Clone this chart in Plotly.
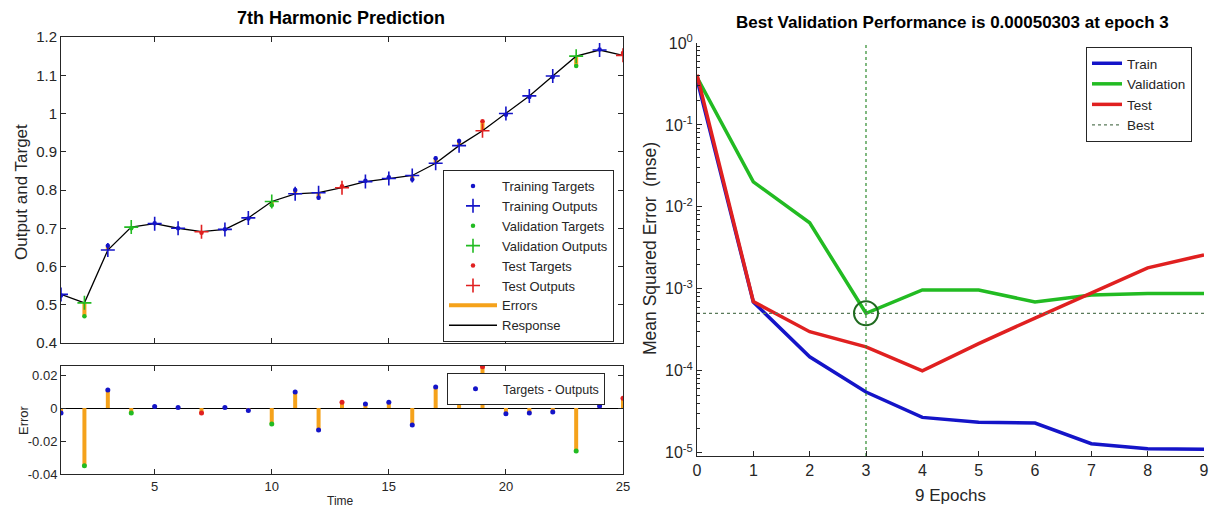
import plotly.graph_objects as go

W, H = 1210, 508

# ---------------- data: response plot ----------------
time = list(range(1, 26))
outputs = [0.527, 0.505, 0.643, 0.703, 0.712, 0.700, 0.691, 0.697, 0.727, 0.770,
           0.790, 0.793, 0.806, 0.822, 0.830, 0.838, 0.870, 0.916, 0.955, 1.000,
           1.046, 1.098, 1.150, 1.166, 1.152]
errors = [-0.003, -0.035, 0.011, -0.003, 0.001, 0.0003, -0.003, 0.0003, -0.0015, -0.0097,
          0.0098, -0.0133, 0.0035, 0.0025, 0.0035, -0.0103, 0.0127, 0.012, 0.025, -0.0035,
          -0.003, -0.0024, -0.026, 0.0013, 0.006]
split = ['train', 'val', 'train', 'val', 'train', 'train', 'test', 'train', 'train', 'val',
         'train', 'train', 'test', 'train', 'train', 'train', 'train', 'train', 'test', 'train',
         'train', 'train', 'val', 'train', 'test']
targets = [o + e for o, e in zip(outputs, errors)]

resp_yticks = [0.4, 0.5, 0.6, 0.7, 0.8, 0.9, 1.0, 1.1, 1.2]
resp_ylabels = ["0.4", "0.5", "0.6", "0.7", "0.8", "0.9", "1", "1.1", "1.2"]
err_yticks = [-0.04, -0.02, 0, 0.02]
err_ylabels = ["-0.04", "-0.02", "0", "0.02"]
time_ticks = [5, 10, 15, 20, 25]

# ---------------- data: performance plot ----------------
epochs = list(range(10))
perf_train = [0.36, 6.9e-4, 1.48e-4, 5.5e-5, 2.7e-5, 2.35e-5, 2.3e-5, 1.29e-5, 1.12e-5, 1.1e-5]
perf_val = [0.38, 0.0202, 0.0064, 5.0303e-4, 9.7e-4, 9.7e-4, 6.9e-4, 8.4e-4, 8.8e-4, 8.8e-4]
perf_test = [0.41, 7.0e-4, 3.0e-4, 1.96e-4, 1.0e-4, 2.14e-4, 4.4e-4, 8.9e-4, 1.8e-3, 2.6e-3]
best_epoch = 3
best_perf = 5.0303e-4
perf_yticks = [1e-5, 1e-4, 1e-3, 1e-2, 1e-1, 1]
perf_ylabels = ["10<sup>-5</sup>", "10<sup>-4</sup>", "10<sup>-3</sup>", "10<sup>-2</sup>",
                "10<sup>-1</sup>", "10<sup>0</sup>"]
perf_ymin_log = -5.04

BLUE = "#1414c8"
GREEN = "#22bb22"
RED = "#e02020"
ORANGE = "#f5a21b"
AX = "#262626"
FONT = "Liberation Sans, Arial, sans-serif"

colors = {'train': BLUE, 'val': GREEN, 'test': RED}
names = {'train': 'Training', 'val': 'Validation', 'test': 'Test'}

fig = go.Figure()

# --- top-left: errors as orange segments between output and target
ex, ey = [], []
for t, o, tg in zip(time, outputs, targets):
    ex += [t, t, None]
    ey += [o, tg, None]
fig.add_trace(go.Scatter(x=ex, y=ey, mode='lines', line=dict(color=ORANGE, width=4),
                         name='Errors', legend='legend', legendrank=7, xaxis='x', yaxis='y'))
fig.add_trace(go.Scatter(x=time, y=outputs, mode='lines', line=dict(color='black', width=1.3),
                         name='Response', legend='legend', legendrank=8, xaxis='x', yaxis='y'))
rank = 1
for s in ['train', 'val', 'test']:
    idx = [i for i, v in enumerate(split) if v == s]
    fig.add_trace(go.Scatter(x=[time[i] for i in idx], y=[targets[i] for i in idx], mode='markers',
                             marker=dict(symbol='circle', size=4.5, color=colors[s]),
                             name=names[s] + ' Targets', legend='legend', legendrank=rank,
                             xaxis='x', yaxis='y'))
    rank += 1
    fig.add_trace(go.Scatter(x=[time[i] for i in idx], y=[outputs[i] for i in idx], mode='markers',
                             marker=dict(symbol='cross-thin', size=10, color=colors[s],
                                         line=dict(color=colors[s], width=1.6)),
                             name=names[s] + ' Outputs', legend='legend', legendrank=rank,
                             xaxis='x', yaxis='y'))
    rank += 1

# --- bottom-left: error stems
sx, sy = [], []
for t, e in zip(time, errors):
    sx += [t, t, None]
    sy += [0, e, None]
fig.add_trace(go.Scatter(x=sx, y=sy, mode='lines', line=dict(color=ORANGE, width=4),
                         showlegend=False, xaxis='x2', yaxis='y2'))
for s in ['train', 'val', 'test']:
    idx = [i for i, v in enumerate(split) if v == s]
    fig.add_trace(go.Scatter(x=[time[i] for i in idx], y=[errors[i] for i in idx], mode='markers',
                             marker=dict(symbol='circle', size=5, color=colors[s]),
                             name='Targets - Outputs', legend='legend2',
                             showlegend=(s == 'train'), xaxis='x2', yaxis='y2'))

# --- right: performance
for vals, nm, c in [(perf_train, 'Train', BLUE), (perf_val, 'Validation', GREEN), (perf_test, 'Test', RED)]:
    fig.add_trace(go.Scatter(x=epochs, y=vals, mode='lines', line=dict(color=c, width=3.5),
                             name=nm, legend='legend3', xaxis='x3', yaxis='y3'))
fig.add_trace(go.Scatter(x=[epochs[0], epochs[-1]], y=[best_perf, best_perf], mode='lines',
                         line=dict(color='#5a7a5a', width=1.2, dash='dot'),
                         name='Best', legend='legend3', xaxis='x3', yaxis='y3'))
fig.add_trace(go.Scatter(x=[best_epoch, best_epoch], y=[10 ** perf_ymin_log, perf_yticks[-1]], mode='lines',
                         line=dict(color='#2e8a2e', width=1.2, dash='dot'),
                         showlegend=False, xaxis='x3', yaxis='y3'))
fig.add_trace(go.Scatter(x=[best_epoch], y=[best_perf], mode='markers',
                         marker=dict(symbol='circle-open', size=24, color='#1f6a1f',
                                     line=dict(color='#1f6a1f', width=2)),
                         showlegend=False, xaxis='x3', yaxis='y3'))


def axstyle(size):
    return dict(showline=True, linecolor=AX, linewidth=1, ticks='inside', ticklen=5,
                tickcolor=AX, showgrid=False, tickfont=dict(family=FONT, size=size, color=AX),
                automargin=False)


xl = [61 / W, 623 / W]
fig.update_layout(
    width=W, height=H,
    margin=dict(l=0, r=0, t=0, b=0),
    paper_bgcolor='white', plot_bgcolor='white',
    font=dict(family=FONT, color=AX),
    xaxis=dict(domain=xl, range=[1, 25], tickvals=time_ticks, showticklabels=False,
               mirror='ticks', anchor='y', zeroline=False, **axstyle(15)),
    yaxis=dict(domain=[1 - 343 / H, 1 - 37 / H], range=[0.4, 1.2], tickvals=resp_yticks,
               ticktext=resp_ylabels, mirror='ticks', anchor='x', zeroline=False, **axstyle(15)),
    xaxis2=dict(domain=xl, range=[1, 25], tickvals=time_ticks, mirror='ticks', anchor='y2',
                zeroline=False, **axstyle(13)),
    yaxis2=dict(domain=[1 - 474 / H, 1 - 366 / H], range=[-0.04, 0.0255], tickvals=err_yticks,
                ticktext=err_ylabels, mirror='ticks', anchor='x2',
                zeroline=True, zerolinecolor='black', zerolinewidth=1, **axstyle(13)),
    xaxis3=dict(domain=[697 / W, 1204 / W], range=[0, 9], tickvals=epochs, anchor='y3',
                zeroline=False, **axstyle(16)),
    yaxis3=dict(domain=[1 - 456 / H, 1 - 43 / H], type='log', range=[perf_ymin_log, 0],
                tickvals=perf_yticks, ticktext=perf_ylabels, anchor='x3', zeroline=False,
                minor=dict(ticks='inside', ticklen=3, tickcolor=AX, dtick='D1', showgrid=False),
                **axstyle(16)),
    legend=dict(x=614 / W, xanchor='right', y=1 - 342 / H, yanchor='bottom', bgcolor='white',
                bordercolor=AX, borderwidth=1, font=dict(family=FONT, size=13, color=AX),
                itemwidth=48, tracegroupgap=0),
    legend2=dict(x=605 / W, xanchor='right', y=1 - 373 / H, yanchor='top', bgcolor='white',
                 bordercolor=AX, borderwidth=1, font=dict(family=FONT, size=12.5, color=AX),
                 itemwidth=45),
    legend3=dict(x=1192 / W, xanchor='right', y=1 - 94.5 / H, yanchor='middle', bgcolor='white',
                 bordercolor=AX, borderwidth=1, font=dict(family=FONT, size=13.5, color=AX)),
    annotations=[
        dict(text="<b>7th Harmonic Prediction</b>", x=341 / W, y=1 - 18 / H, xref='paper', yref='paper',
             showarrow=False, font=dict(family=FONT, size=18, color='black'), xanchor='center', yanchor='middle'),
        dict(text="<b>Best Validation Performance is 0.00050303 at epoch 3</b>", x=952 / W, y=1 - 22 / H,
             xref='paper', yref='paper', showarrow=False, font=dict(family=FONT, size=17, color='black'),
             xanchor='center', yanchor='middle'),
        dict(text="Output and Target", x=21 / W, y=1 - 192 / H, xref='paper', yref='paper', textangle=-90,
             showarrow=False, font=dict(family=FONT, size=17, color=AX), xanchor='center', yanchor='middle'),
        dict(text="Error", x=23 / W, y=1 - 420 / H, xref='paper', yref='paper', textangle=-90,
             showarrow=False, font=dict(family=FONT, size=13, color=AX), xanchor='center', yanchor='middle'),
        dict(text="Time", x=340 / W, y=1 - 501 / H, xref='paper', yref='paper',
             showarrow=False, font=dict(family=FONT, size=12, color=AX), xanchor='center', yanchor='middle'),
        dict(text="Mean Squared Error  (mse)", x=650 / W, y=1 - 249 / H, xref='paper', yref='paper',
             textangle=-90, showarrow=False, font=dict(family=FONT, size=17.5, color=AX),
             xanchor='center', yanchor='middle'),
        dict(text="9 Epochs", x=950 / W, y=1 - 495 / H, xref='paper', yref='paper',
             showarrow=False, font=dict(family=FONT, size=17, color=AX), xanchor='center', yanchor='middle'),
    ],
)

fig.write_html("out.html")
